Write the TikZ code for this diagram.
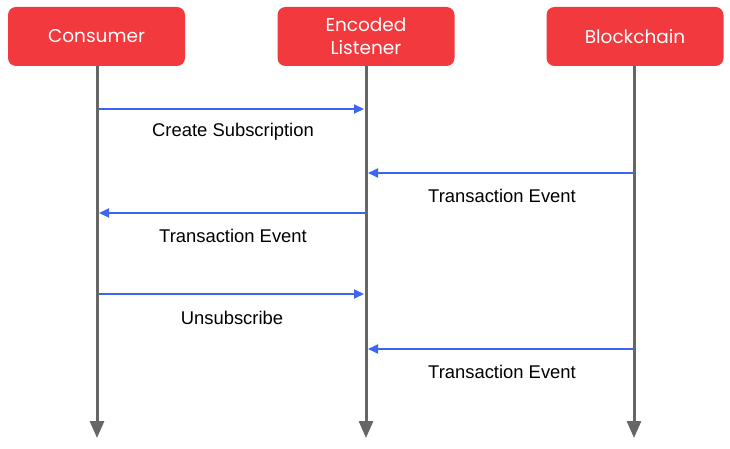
\documentclass[tikz,border=0pt]{standalone}
\usepackage{fontspec}
\setmainfont{Liberation Sans}
\newfontfamily\hdrfont{Poppins}
\usetikzlibrary{arrows.meta}
\definecolor{boxred}{HTML}{F2393D}
\definecolor{lifegray}{HTML}{666666}
\definecolor{msgblue}{HTML}{3D66F0}
\begin{document}
\begin{tikzpicture}[x=1pt,y=-1pt,
  actor/.style={fill=boxred, draw=none, rounded corners=8pt, minimum width=177pt, minimum height=59pt,
    text=white, font=\hdrfont\fontsize{18.5}{23}\selectfont, align=center, inner sep=0pt},
  lifeline/.style={draw=lifegray, line width=3pt, -{Triangle[width=14pt,length=17pt]}},
  msg/.style={draw=msgblue, line width=1.8pt, -{Triangle[width=9pt,length=10pt]}},
  lbl/.style={font=\fontsize{18.4}{21}\selectfont, text=black, inner sep=0pt}]
\useasboundingbox (0,0) rectangle (730,449);
\node[actor] (cons) at (96.5,36.5) {Consumer};
\node[actor] (list) at (366,36.5) {Encoded\\Listener};
\node[actor] (chain) at (635,36.5) {Blockchain};
\coordinate (consE) at (97,438);
\coordinate (listE) at (366,438);
\coordinate (chainE) at (634,438);
\draw[lifeline] (97,66) coordinate (consS) -- (consE);
\draw[lifeline] (366,66) coordinate (listS) -- (listE);
\draw[lifeline] (634,66) coordinate (chainS) -- (chainE);
% message anchor points
\coordinate (c1) at (98.5,109); \coordinate (l1) at (364,109);
\coordinate (b2) at (632.5,173); \coordinate (l2) at (368,173);
\coordinate (l3) at (364.5,213); \coordinate (c3) at (99,213);
\coordinate (c4) at (98.5,294); \coordinate (l4) at (364,294);
\coordinate (b5) at (632.5,349); \coordinate (l5) at (368,349);
\draw[msg] (c1) -- (l1);
\node[lbl] (t1) at (233,132) {Create Subscription};
\draw[msg] (b2) -- (l2);
\node[lbl] (t2) at (502,196) {Transaction Event};
\draw[msg] (l3) -- (c3);
\node[lbl] (t3) at (233,236) {Transaction Event};
\draw[msg] (c4) -- (l4);
\node[lbl] (t4) at (232,318) {Unsubscribe};
\draw[msg] (b5) -- (l5);
\node[lbl] (t5) at (502,372) {Transaction Event};
\end{tikzpicture}
\end{document}
